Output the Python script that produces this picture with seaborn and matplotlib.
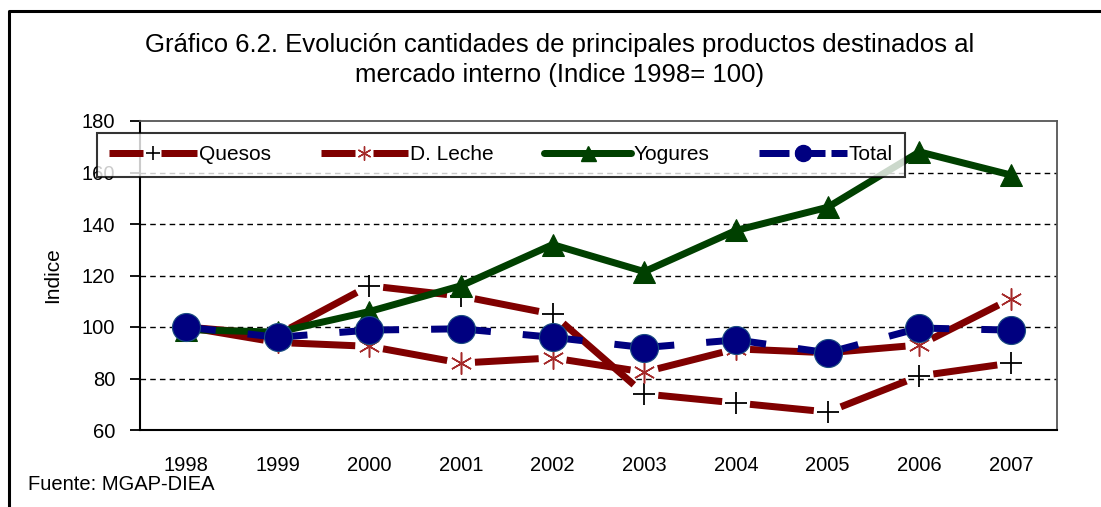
import matplotlib
matplotlib.use("Agg")
import math
import matplotlib.pyplot as plt
from matplotlib.lines import Line2D
import seaborn as sns

years = ["1998", "1999", "2000", "2001", "2002", "2003", "2004", "2005", "2006", "2007"]
quesos = [100, 97, 116, 112, 105, 74, 70.5, 67, 81, 86]
dleche = [100, 94, 92.5, 86, 88, 82.5, 91.5, 90, 93, 111]
yogures = [99, 98, 106, 116, 132, 121.5, 137.5, 146.5, 168, 159]
total = [100, 96, 98.8, 99.3, 96, 92, 95, 90, 99.6, 98.8]
series_names = ["Quesos", "D. Leche", "Yogures", "Total"]
yticks = [60, 80, 100, 120, 140, 160, 180]

title1 = "Gráfico 6.2. Evolución cantidades de principales productos destinados al"
title2 = "mercado interno (Indice 1998= 100)"
ylabel = "Indice"
source = "Fuente: MGAP-DIEA"

sns.set_theme(style="white")
plt.rcParams["font.family"] = ["Liberation Sans", "DejaVu Sans"]
plt.rcParams["lines.scale_dashes"] = False
for k in ["text.color", "axes.labelcolor", "xtick.color", "ytick.color"]:
    plt.rcParams[k] = "black"

W, H = 1101, 507
fig = plt.figure(figsize=(W / 100, H / 100), dpi=100)
fig.patch.set_facecolor("white")
ax = fig.add_axes([140 / W, 1 - 430 / H, (1057 - 140) / W, (430 - 121) / H])
ax.set_facecolor("white")

pos = list(range(len(years)))
ax.set_xlim(-0.5, len(years) - 0.5)
ax.set_ylim(60, 180)

px = 0.72  # points per pixel
red = "#800000"
green = "#004000"
navy = "#000080"
LW = 7 * px


def seg_len(i, vals):
    p0 = ax.transData.transform((pos[i], vals[i]))
    p1 = ax.transData.transform((pos[i + 1], vals[i + 1]))
    return math.hypot(p1[0] - p0[0], p1[1] - p0[1])


def draw_segments(vals, color, mode, z):
    for i in range(len(vals) - 1):
        L = seg_len(i, vals)
        if mode == "gap_markers":
            g = 28
            on = max(L - g, 1)
            ls = ((on + g / 2) * px, (on * px, g * px))
        else:  # gap in middle of segment
            g = 32
            on = max(L - g, 1)
            ls = ((on / 2) * px, (on * px, g * px))
        sns.lineplot(x=[pos[i], pos[i + 1]], y=[vals[i], vals[i + 1]], ax=ax,
                     color=color, lw=LW, linestyle=ls, legend=False, zorder=z)


draw_segments(quesos, red, "gap_markers", 3)
sns.lineplot(x=pos, y=quesos, ax=ax, linestyle="none", marker="+",
             markersize=23 * px, markeredgecolor="black", markeredgewidth=1.3,
             legend=False, zorder=3.1)
draw_segments(dleche, red, "gap_markers", 3.2)
sns.lineplot(x=pos, y=dleche, ax=ax, linestyle="none", marker=(6, 2, 0),
             markersize=22 * px, markeredgecolor="#a52a2a", markeredgewidth=1.1,
             legend=False, zorder=3.3)
sns.lineplot(x=pos, y=yogures, ax=ax, color=green, lw=LW, marker="^",
             markersize=22 * px, markeredgecolor=green, markerfacecolor=green,
             legend=False, zorder=4)
draw_segments(total, navy, "gap_mid", 5)
sns.lineplot(x=pos, y=total, ax=ax, linestyle="none", marker="o",
             markersize=28 * px, markeredgecolor="#1a4d80", markeredgewidth=0.8,
             markerfacecolor=navy, legend=False, zorder=5.1)

ax.set_xlim(-0.5, len(years) - 0.5)
ax.set_ylim(60, 180)
ax.set_yticks(yticks)
ax.set_yticklabels([str(v) for v in yticks], fontsize=14.5)
ax.set_xticks(pos)
ax.set_xticklabels(years, fontsize=14.5)
ax.set_xticks([p - 0.5 for p in pos] + [len(years) - 0.5], minor=True)
ax.tick_params(axis="x", which="major", length=0, pad=19)
ax.tick_params(axis="x", which="minor", length=6, width=1.3, color="black", direction="out")
ax.tick_params(axis="y", which="major", length=7, width=1.3, color="black",
               direction="out", pad=11, left=True)
ax.set_xlabel("")
ax.set_ylabel(ylabel, fontsize=15, labelpad=14)

for v in yticks[1:-1]:
    ax.axhline(v, color="black", lw=1, linestyle=(0, (4, 3)), zorder=1)

for s in ["left", "bottom"]:
    ax.spines[s].set_color("black")
    ax.spines[s].set_linewidth(1.5)
for s in ["top", "right"]:
    ax.spines[s].set_color("#555555")
    ax.spines[s].set_linewidth(1.3)

handles = [
    Line2D([], [], color=red, lw=LW, linestyle=(0, (34 * px, 18 * px, 60 * px, 10 * px)),
           marker="+", markersize=14 * px, markeredgecolor="black", markeredgewidth=1.2),
    Line2D([], [], color=red, lw=LW, linestyle=(0, (34 * px, 18 * px, 60 * px, 10 * px)),
           marker=(6, 2, 0), markersize=14 * px, markeredgecolor="#a52a2a",
           markeredgewidth=1.0),
    Line2D([], [], color=green, lw=LW, marker="^", markersize=15 * px,
           markeredgecolor=green, markerfacecolor=green),
    Line2D([], [], color=navy, lw=LW, linestyle=(0, (30 * px, 6 * px)), marker="o",
           markersize=16 * px, markeredgecolor=navy, markerfacecolor=navy),
]
leg = ax.legend(handles, series_names, loc="center",
                bbox_to_anchor=(501 / W, 1 - 154.5 / H),
                bbox_transform=fig.transFigure, ncol=4, fontsize=15,
                handlelength=4.2, handletextpad=0.1, columnspacing=2.4,
                frameon=True, fancybox=False, shadow=False, borderpad=0.6,
                borderaxespad=0)
leg.get_frame().set_edgecolor("black")
leg.get_frame().set_linewidth(1.5)
leg.set_zorder(10)

fig.text(560 / W, 1 - 45 / H, title1, ha="center", va="center", fontsize=18.5)
fig.text(560 / W, 1 - 75 / H, title2, ha="center", va="center", fontsize=18.5)
fig.text(28 / W, 1 - 484 / H, source, ha="left", va="center", fontsize=14.5)

fig.add_artist(Line2D([9 / W, 9 / W, 1.0], [0.0, 1 - 11 / H, 1 - 11 / H],
                      transform=fig.transFigure, color="black", lw=2.2))

fig.savefig("out.png", dpi=100)
